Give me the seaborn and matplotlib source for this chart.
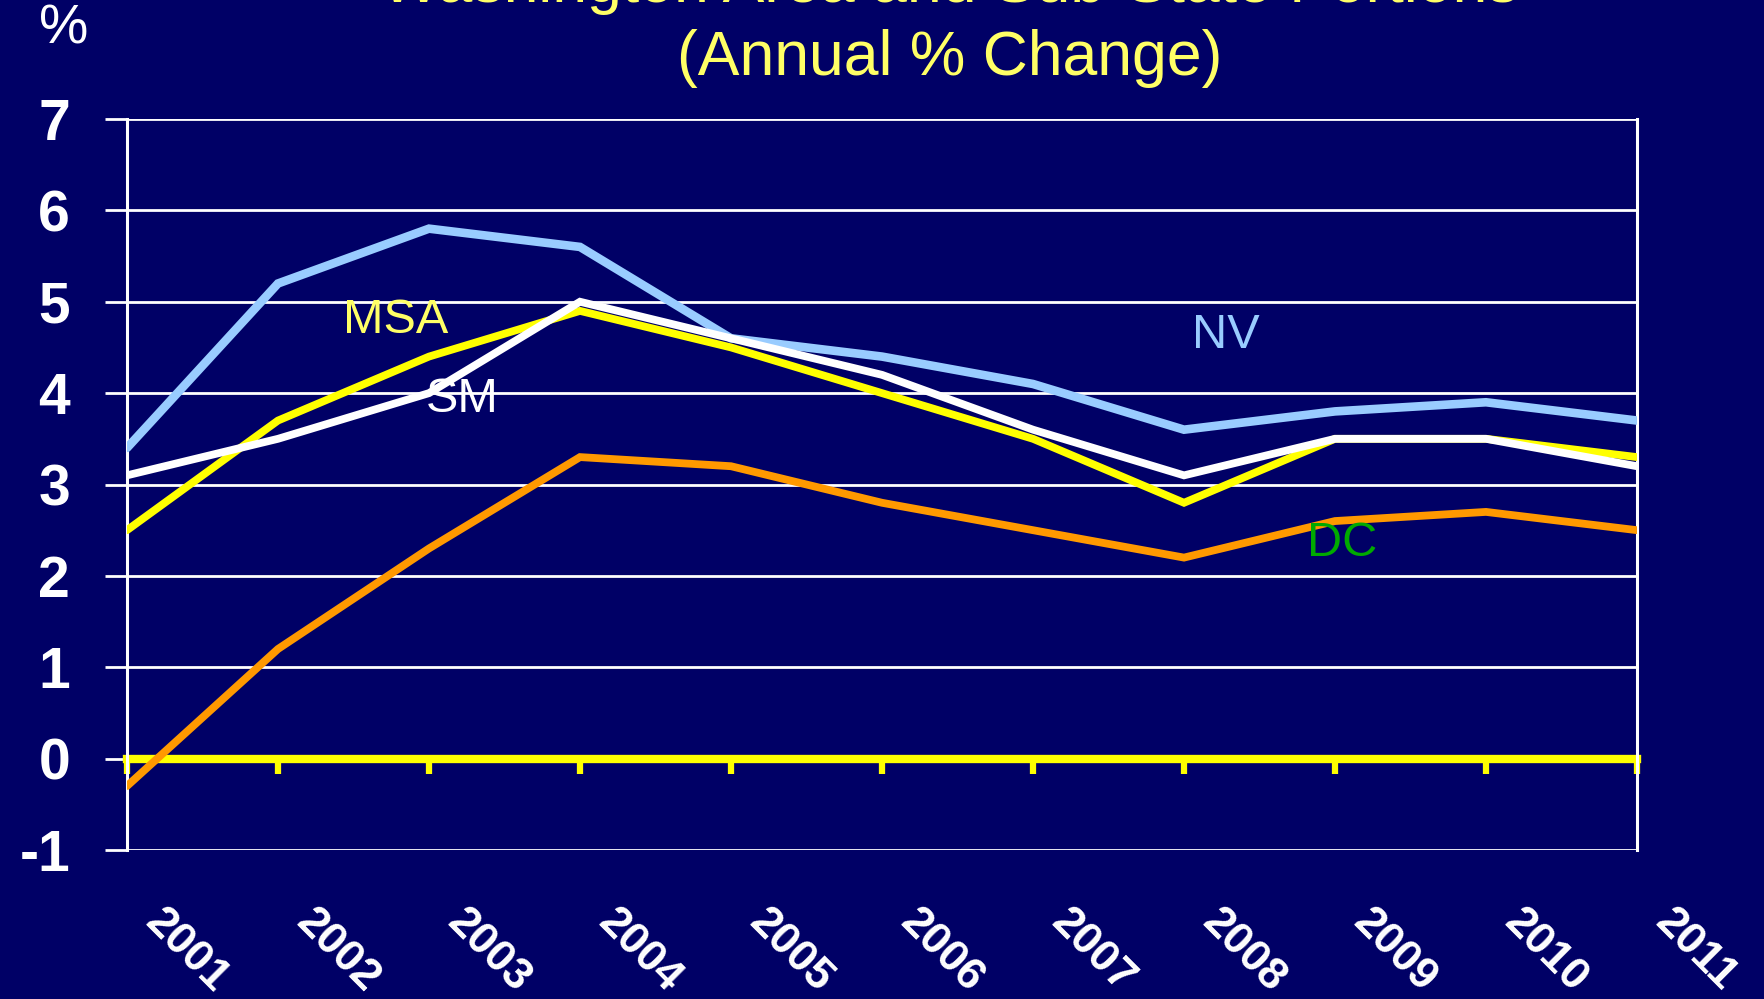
import numpy as np
import pandas as pd
import matplotlib
matplotlib.use("Agg")
import matplotlib.pyplot as plt
import matplotlib.transforms as mtransforms
import seaborn as sns

years = [2001, 2002, 2003, 2004, 2005, 2006, 2007, 2008, 2009, 2010, 2011]
nv = [3.4, 5.2, 5.8, 5.6, 4.6, 4.4, 4.1, 3.6, 3.8, 3.9, 3.7]
msa = [2.5, 3.7, 4.4, 4.9, 4.5, 4.0, 3.5, 2.8, 3.5, 3.5, 3.3]
sm = [3.1, 3.5, 4.0, 5.0, 4.6, 4.2, 3.6, 3.1, 3.5, 3.5, 3.2]
dc = [-0.3, 1.2, 2.3, 3.3, 3.2, 2.8, 2.5, 2.2, 2.6, 2.7, 2.5]
y_ticks = [-1, 0, 1, 2, 3, 4, 5, 6, 7]

BG = "#000066"
COLORS = {"NV": "#99CCFF", "MSA": "#FFFF00", "SM": "#FFFFFF", "DC": "#FF9900"}
WIDTHS = {"NV": 6.2, "MSA": 5.6, "SM": 5.6, "DC": 5.6}

df = pd.DataFrame({"year": years, "NV": nv, "MSA": msa, "SM": sm, "DC": dc})

sns.set_style("dark")
plt.rcParams["font.family"] = ["Liberation Sans", "DejaVu Sans"]

fig = plt.figure(figsize=(17.64, 9.99), dpi=100, facecolor=BG)
ax = fig.add_axes([127 / 1764, 1 - 850 / 999, (1637 - 127) / 1764, (850 - 119) / 999])
ax.set_facecolor(BG)

# grid lines
for v in y_ticks:
    ax.axhline(v, color="white", lw=2, zorder=1)

# zero line (x axis)
ax.spines["bottom"].set_position(("data", 0))
ax.spines["bottom"].set_color("#FFFF00")
ax.spines["bottom"].set_linewidth(6)
ax.spines["bottom"].set_zorder(2)
ax.spines["top"].set_visible(False)
for s in ["left", "right"]:
    ax.spines[s].set_color("white")
    ax.spines[s].set_linewidth(2.2)

# series
for name in ["NV", "MSA", "SM", "DC"]:
    sns.lineplot(data=df, x="year", y=name, color=COLORS[name], lw=WIDTHS[name],
                 ax=ax, zorder=3, solid_joinstyle="miter")

ax.set_xlim(2001, 2011)
ax.set_ylim(-1, 7)
ax.set_xlabel("")
ax.set_ylabel("")

ax.set_yticks(y_ticks)
ax.set_yticklabels([str(v) for v in y_ticks], fontsize=41, fontweight="bold", color="white")
ax.tick_params(axis="y", direction="out", length=16, width=2, color="white", pad=25, left=True)

ax.set_xticks(years)
ax.set_xticklabels([str(y) for y in years], fontsize=32, fontweight="bold", color="white",
                   rotation=-45, ha="left", va="top", rotation_mode="anchor")
ax.tick_params(axis="x", direction="out", length=11, width=4.5, color="#FFFF00", bottom=True)
offset = mtransforms.ScaledTranslation(0.39, -1.23, fig.dpi_scale_trans)
for lbl in ax.get_xticklabels():
    lbl.set_transform(lbl.get_transform() + offset)

# series labels
ax.text(2002.78, 4.8, "MSA", color="#FFFF66", fontsize=35, ha="center", va="center", zorder=4)
ax.text(2003.22, 3.93, "SM", color="white", fontsize=35, ha="center", va="center", zorder=4)
ax.text(2008.28, 4.63, "NV", color="#99CCFF", fontsize=35, ha="center", va="center", zorder=4)
ax.text(2009.05, 2.35, "DC", color="#00AA00", fontsize=35, ha="center", va="center", zorder=4)

# titles
fig.text(950 / 1764, 1 - 2 / 999, "Washington Area and Sub-State Portions", color="#FFFF66",
         fontsize=45, ha="center", va="baseline")
fig.text(950 / 1764, 1 - 75 / 999, "(Annual % Change)", color="#FFFF66",
         fontsize=45, ha="center", va="baseline")
fig.text(64 / 1764, 1 - 30 / 999, "%", color="white", fontsize=40, ha="center", va="center")

fig.savefig("out.png", dpi=100, facecolor=BG)
